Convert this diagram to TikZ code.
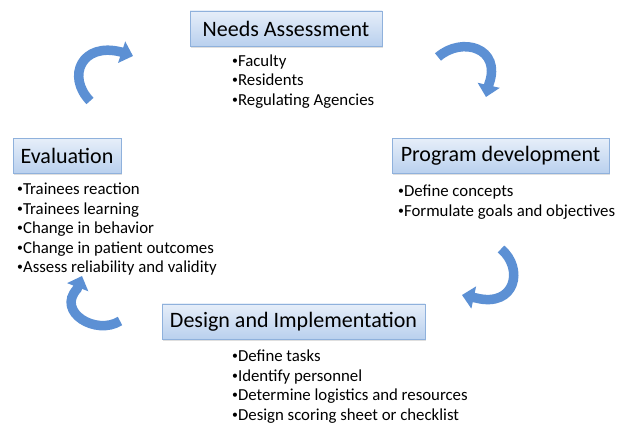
\documentclass[tikz,border=0pt]{standalone}
\usepackage{fontspec}
\usepackage{graphicx}
\setmainfont{Carlito}
\usetikzlibrary{arrows.meta,shadows}
\definecolor{boxtop}{HTML}{E6EEF9}
\definecolor{boxbot}{HTML}{B9D0EE}
\definecolor{boxline}{HTML}{8FB1DC}
\definecolor{arrowblue}{HTML}{5C90D4}
\definecolor{arrowlight}{HTML}{7FA9E0}
\newcommand{\bul}{\raisebox{0.12em}{\scalebox{0.7}{•}}}
\tikzset{
  headbox/.style={rectangle, draw=boxline, line width=0.8pt, top color=boxtop, bottom color=boxbot,
    drop shadow={opacity=0.25, shadow xshift=1pt, shadow yshift=-2pt},
    minimum height=35pt, inner sep=0pt, text=black, font=\fontsize{22}{26}\selectfont},
  bullet/.style={anchor=base west, inner sep=0pt, text=black, font=\fontsize{16.8}{19}\selectfont},
  cyclearrow/.style={draw=arrowblue, line width=9.5pt, -{Triangle[width=22pt,length=12pt]}},
  arrowshine/.style={draw=arrowlight, line width=3pt, line cap=round, opacity=0.7}
}
\begin{document}
\begin{tikzpicture}[x=1pt,y=-1pt]
\useasboundingbox (0,0) rectangle (625,427);
\fill[white] (0,0) rectangle (625,427);

% header boxes
\node[headbox, minimum width=192pt] (needs) at (286,28.5) {Needs Assessment};
\node[headbox, minimum width=108pt] (eval) at (67,156) {Evaluation};
\node[headbox, minimum width=217pt] (prog) at (500.5,156) {Program development};
\node[headbox, minimum width=263pt] (design) at (293.5,321.5) {Design and Implementation};

% bullets
\node[bullet] (n1) at (232,66.5) {\bul Faculty};
\node[bullet] (n2) at (232,86) {\bul Residents};
\node[bullet] (n3) at (232,105.5) {\bul Regulating Agencies};

\node[bullet] (e1) at (17,195) {\bul Trainees reaction};
\node[bullet] (e2) at (17,214.5) {\bul Trainees learning};
\node[bullet] (e3) at (17,234) {\bul Change in behavior};
\node[bullet] (e4) at (17,253.5) {\bul Change in patient outcomes};
\node[bullet] (e5) at (17,273) {\bul Assess reliability and validity};

\node[bullet] (p1) at (398,197) {\bul Define concepts};
\node[bullet] (p2) at (398,216.5) {\bul Formulate goals and objectives};

\node[bullet] (d1) at (232,362) {\bul Define tasks};
\node[bullet] (d2) at (232,381.5) {\bul Identify personnel};
\node[bullet] (d3) at (232,401) {\bul Determine logistics and resources};
\node[bullet] (d4) at (232,420.5) {\bul Design scoring sheet or checklist};

% curved arrows
\coordinate (tls) at (90,101);
\coordinate (tle) at (133,56);
\coordinate (trs) at (438,57);
\coordinate (tre) at (486,97);
\coordinate (brs) at (501,249);
\coordinate (bre) at (462,295);
\coordinate (bls) at (120,321);
\coordinate (ble) at (82,276);

\draw[cyclearrow] (tls) .. controls (66,76) and (82,42) .. (121,52) -- (tle);
\draw[cyclearrow] (trs) .. controls (462,36) and (502,48) .. (489,84) -- (tre);
\draw[cyclearrow] (brs) .. controls (524,268) and (516,308) .. (476,298) -- (bre);
\draw[cyclearrow] (bls) .. controls (96,336) and (56,312) .. (77,289) -- (ble);
\end{tikzpicture}
\end{document}
